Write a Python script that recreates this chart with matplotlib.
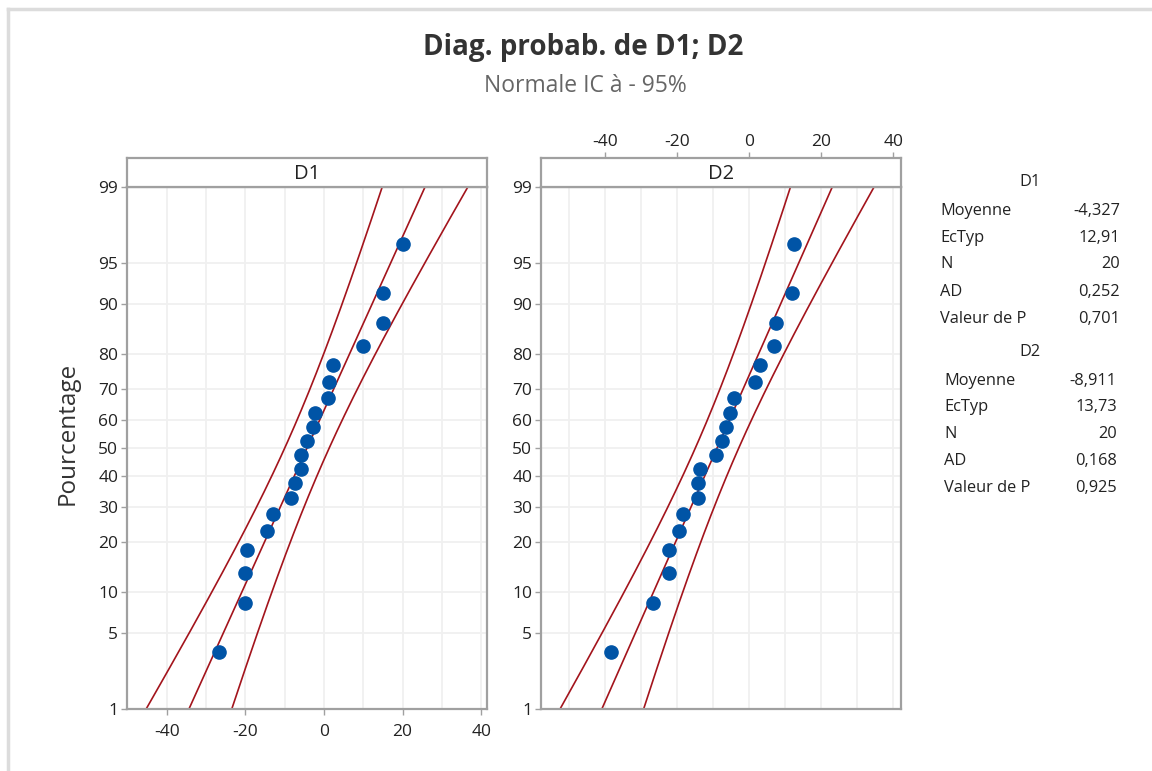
import numpy as np
import matplotlib
matplotlib.use("Agg")
import matplotlib.pyplot as plt
from matplotlib.ticker import FixedLocator, MultipleLocator
from matplotlib.lines import Line2D
from statistics import NormalDist

plt.rcParams['font.family'] = ['Open Sans', 'DejaVu Sans']
plt.rcParams['axes.unicode_minus'] = False

# ---------------- data ----------------
d1_values = [-26.8, -20.1, -20.1, -19.6, -14.5, -13.0, -8.4, -7.3, -5.8, -5.8,
             -4.4, -2.8, -2.2, 0.9, 1.2, 2.4, 10.0, 15.1, 15.1, 20.1]
d2_values = [-38.3, -26.8, -22.2, -22.2, -19.5, -18.4, -14.1, -14.1, -13.5, -9.1,
             -7.5, -6.3, -5.2, -4.1, 1.5, 3.1, 7.0, 7.5, 11.9, 12.5]
percents = [3.43, 8.33, 13.24, 18.14, 23.04, 27.94, 32.84, 37.75, 42.65, 47.55,
            52.45, 57.35, 62.25, 67.16, 72.06, 76.96, 81.86, 86.76, 91.67, 96.57]

d1_mean, d1_sd, d1_n = -4.327, 12.91, 20
d2_mean, d2_sd, d2_n = -8.911, 13.73, 20

y_ticks = [1, 5, 10, 20, 30, 40, 50, 60, 70, 80, 90, 95, 99]
x_ticks = [-40, -20, 0, 20, 40]

stat_labels = ["Moyenne", "EcTyp", "N", "AD", "Valeur de P"]
d1_stats = ["-4,327", "12,91", "20", "0,252", "0,701"]
d2_stats = ["-8,911", "13,73", "20", "0,168", "0,925"]

title = "Diag. probab. de D1; D2"
subtitle = "Normale IC à - 95%"

# ---------------- scale ----------------
nd = NormalDist()
_ppf = np.vectorize(lambda v: nd.inv_cdf(v), otypes=[float])
_cdf = np.vectorize(lambda v: nd.cdf(v), otypes=[float])

def fwd(p):
    p = np.clip(np.asarray(p, float), 1e-9, 100 - 1e-9)
    return _ppf(p / 100.0)

def inv(z):
    return _cdf(np.asarray(z, float)) * 100.0

W, H = 1152, 771
fig = plt.figure(figsize=(W / 100, H / 100), dpi=100)

def fx(px):
    return px / W

def fy(py):
    return 1 - py / H

spine_col = '#a0a0a0'
grid_col = '#f0f0f0'
pt_col = '#0054a6'
line_col = '#a3141c'
txt_col = '#222222'
TICK_FS = 12.5

def make_panel(left_px, right_px, xlim, values, mean, sd, n, name, top_ticks):
    top_px, bot_px, strip_top = 187, 709, 158
    ax = fig.add_axes([fx(left_px), fy(bot_px), fx(right_px - left_px), (bot_px - top_px) / H])
    ax.set_yscale('function', functions=(fwd, inv))
    ax.set_ylim(1, 99)
    ax.set_xlim(*xlim)
    ax.yaxis.set_major_locator(FixedLocator(y_ticks))
    ax.yaxis.set_minor_locator(FixedLocator([]))
    ax.set_yticklabels([str(t) for t in y_ticks])
    ax.xaxis.set_major_locator(FixedLocator(x_ticks))
    ax.xaxis.set_minor_locator(MultipleLocator(10))
    ax.grid(True, which='both', color=grid_col, lw=1.3, zorder=0)
    ax.set_axisbelow(True)
    for s in ax.spines.values():
        s.set_color(spine_col)
        s.set_linewidth(1.6)
    ax.tick_params(axis='both', which='major', length=4, width=1, color=spine_col,
                   labelsize=TICK_FS, labelcolor=txt_col)
    ax.tick_params(axis='y', pad=2)
    ax.tick_params(axis='x', which='minor', length=0)
    if top_ticks:
        ax.tick_params(axis='x', which='both', bottom=False, labelbottom=False)
    else:
        ax.tick_params(axis='x', pad=7)

    # fitted line and 95% CI
    z = np.linspace(fwd(1.0), fwd(99.0), 200)
    p = inv(z)
    center = mean + sd * z
    half = 1.96 * sd * np.sqrt((1 + z ** 2 / 2) / n)
    for xs in (center - half, center, center + half):
        ax.plot(xs, p, color=line_col, lw=1.2, zorder=2)
    ax.plot(values, percents, 'o', color=pt_col, ms=9.5, mec=pt_col, zorder=3)

    # strip
    st = fig.add_axes([fx(left_px), fy(top_px), fx(right_px - left_px), (top_px - strip_top) / H])
    st.set_xlim(*xlim)
    st.set_ylim(0, 1)
    st.set_yticks([])
    for s in st.spines.values():
        s.set_color(spine_col)
        s.set_linewidth(1.6)
    st.text(0.5, 0.45, name, transform=st.transAxes, ha='center', va='center',
            fontsize=14.5, color=txt_col)
    if top_ticks:
        st.xaxis.tick_top()
        st.xaxis.set_major_locator(FixedLocator(x_ticks))
        st.tick_params(axis='x', length=4, width=1, color=spine_col, labelsize=TICK_FS,
                       labelcolor=txt_col, pad=2)
    else:
        st.set_xticks([])
    return ax

ax1 = make_panel(126.7, 486.7, (-50.2, 41.4), d1_values, d1_mean, d1_sd, d1_n, "D1", False)
ax2 = make_panel(540.7, 900.7, (-57.8, 42.0), d2_values, d2_mean, d2_sd, d2_n, "D2", True)

fig.text(fx(68), fy(433), "Pourcentage", rotation=90, ha='center', va='center',
         fontsize=17.5, color='#333333')

fig.text(fx(583), fy(48), title, ha='center', va='center', fontsize=20,
         fontweight='bold', color='#333333')
fig.text(fx(585), fy(86), subtitle, ha='center', va='center', fontsize=16.5,
         color='#666666')

# stats table
STAT_FS = 11.8
def stats_block(header_y, rows_y, left_x, right_x, name, vals):
    fig.text(fx(1030), fy(header_y), name, ha='center', va='center', fontsize=STAT_FS, color=txt_col)
    for lab, v, y in zip(stat_labels, vals, rows_y):
        fig.text(fx(left_x), fy(y), lab, ha='left', va='center', fontsize=STAT_FS, color=txt_col)
        fig.text(fx(right_x), fy(y), v, ha='right', va='center', fontsize=STAT_FS, color=txt_col)

stats_block(182, [211, 238, 264, 292, 319], 940, 1120, "D1", d1_stats)
stats_block(352, [381, 407, 434, 461, 488], 944, 1117, "D2", d2_stats)

# outer frame
fig.add_artist(Line2D([fx(7.5), 1], [fy(9), fy(9)], color='#dcdcdc', lw=2.5, transform=fig.transFigure))
fig.add_artist(Line2D([fx(7.5), fx(7.5)], [0, fy(9)], color='#dcdcdc', lw=2.5, transform=fig.transFigure))

fig.savefig("out.png", dpi=100, facecolor='white')
